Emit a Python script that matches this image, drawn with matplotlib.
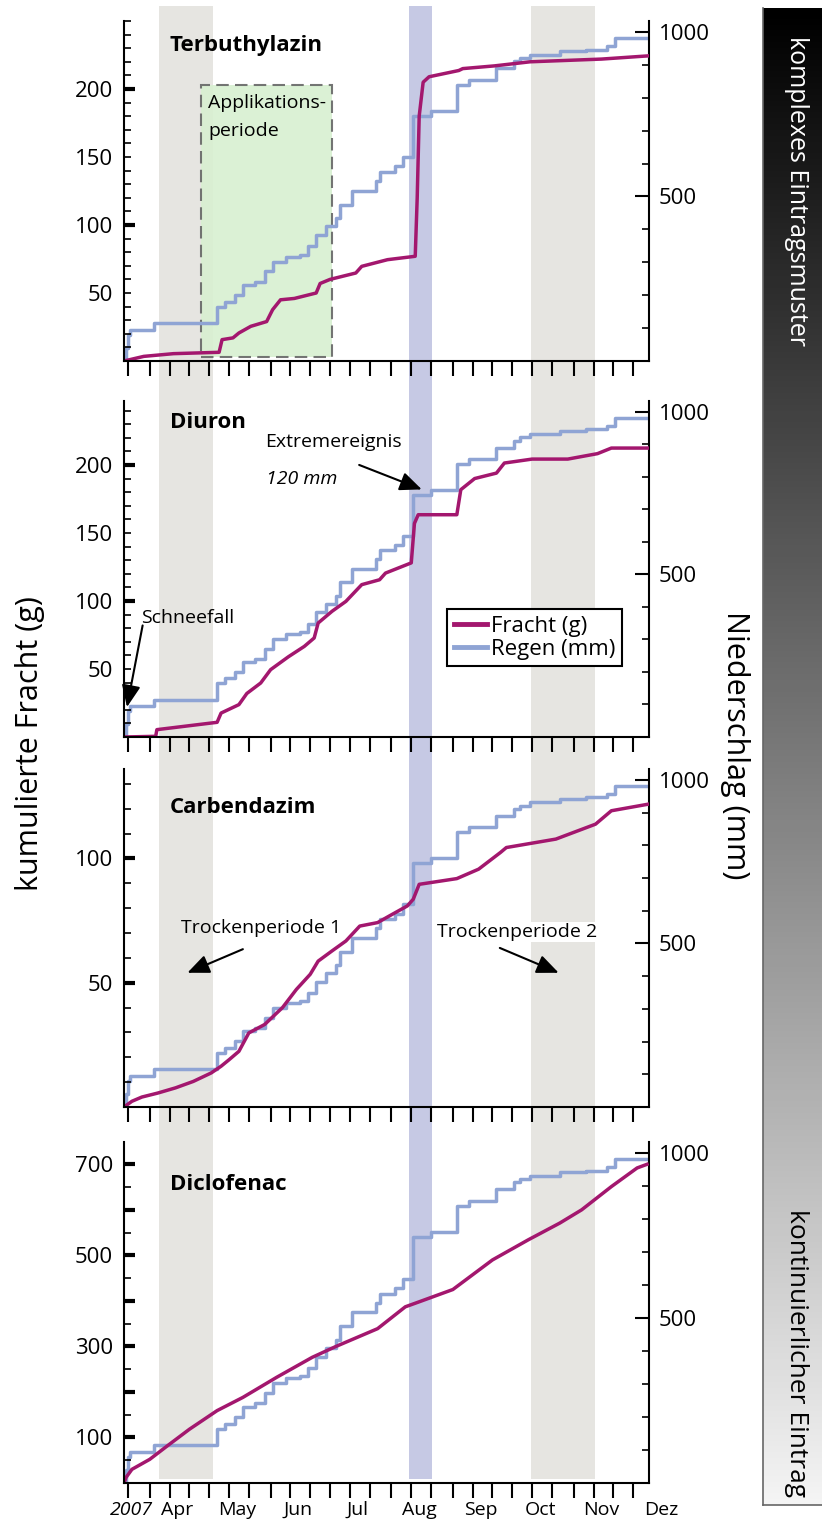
import numpy as np
import matplotlib.pyplot as plt
from matplotlib.patches import Rectangle
from matplotlib.lines import Line2D
from matplotlib.ticker import MultipleLocator, FixedLocator, FuncFormatter
from matplotlib.colors import LinearSegmentedColormap

plt.rcParams['font.family'] = ['Open Sans', 'DejaVu Sans']

# Tag im Jahr 2007 / kumulierter Regen (mm)
regen_tag = [78, 79, 80, 81, 93, 125, 129, 134, 138, 144, 149, 153, 160, 167, 171, 175, 180, 185,
             187, 193, 205, 207, 215, 219, 224, 233, 246, 252, 266, 275, 278, 283, 298, 311, 322, 326, 343]
regen_mm = [0, 40, 80, 94, 115, 165, 180, 201, 231, 241, 272, 302, 317, 323, 348, 383, 409, 434,
            475, 517, 546, 574, 591, 619, 745, 760, 840, 855, 890, 911, 921, 931, 941, 946, 956, 980, 982]

# kumulierte Fracht (g)
terb_tag = [78, 88, 103, 126, 127.5, 133, 136, 142, 150, 153, 157, 164, 175, 177, 182, 195, 198,
            211, 225, 226, 227, 229, 232, 247, 249, 265, 283, 319, 343]
terb_g = [0, 3.4, 5.4, 6.4, 15.7, 17, 20.6, 25.5, 29, 37.7, 45, 46, 50, 57, 60, 64.7, 69.6,
          74.5, 77, 120, 180, 205, 209, 213.6, 215, 217, 220, 222, 224.4]

diur_tag = [78, 94, 94.6, 125, 127, 136, 140, 147, 152, 161, 169, 174, 176, 183, 190, 198, 207,
            210, 223, 224.6, 226.5, 246, 248, 255, 266, 270, 284, 302, 317, 324, 343]
diur_g = [0, 0.5, 5.4, 10.8, 17.6, 23.8, 32, 39.7, 49.5, 59, 66.6, 72.8, 83.8, 92.4, 99.7, 112, 115.6,
          120.5, 128, 157, 163.4, 163.4, 181.8, 190, 194, 201.4, 204.3, 204.3, 208.3, 212.4, 212.4]

carb_tag = [78, 82, 87, 95, 104, 113, 122, 127, 131, 136, 141, 149, 158, 165, 172, 176, 183, 190,
            197, 206, 212, 221, 224, 227, 246, 257, 268, 271, 296, 316, 324, 343]
carb_g = [0, 2.3, 4, 5.6, 7.7, 10.3, 13.7, 16.4, 19, 22.4, 29.8, 33.2, 40, 47.3, 53.4, 58.7, 62.8, 66.8,
          72.8, 74.2, 76.9, 80.9, 83.6, 89.6, 91.9, 95.7, 102.4, 104.4, 107.8, 113.8, 119.2, 121.9]

dicl_tag = [78, 79, 82, 91, 100, 111, 125, 138, 155, 173, 185, 206, 220, 227, 244, 264, 282, 298,
            309, 324, 337, 342]
dicl_g = [0, 12, 30, 52, 82, 118, 159, 188, 232, 276, 300, 339, 387, 398, 425, 490, 534, 571,
          600, 651, 692, 700]

monate = ['2007', 'Apr', 'May', 'Jun', 'Jul', 'Aug', 'Sep', 'Oct', 'Nov', 'Dez']
monat_tag = [81.5, 105, 135, 166, 196, 227, 258, 288, 319, 349]
x_ticks = [80, 91, 101, 111, 121, 131, 141, 152, 162, 172, 182, 192, 202, 213, 223, 233,
           244, 254, 264, 274, 284, 294, 305, 315, 325, 335]

fracht_col = '#a3176e'
regen_col = '#8fa4d4'

W, H = 822, 1524
fig = plt.figure(figsize=(W / 100, H / 100), dpi=100)
L, R = 124, 649
xlim = (78, 343)

# Hintergrund: Trockenperioden und Extremereignis
ax_bg = fig.add_axes([L / W, 0, (R - L) / W, 1])
ax_bg.set_xlim(xlim)
ax_bg.axis('off')
y0, y1 = 1 - 1479 / H, 1 - 6 / H
ax_bg.axvspan(95.5, 123, ymin=y0, ymax=y1, color='#e6e5e1', lw=0)
ax_bg.axvspan(283.5, 315.5, ymin=y0, ymax=y1, color='#e6e5e1', lw=0)
ax_bg.axvspan(222, 233.5, ymin=y0, ymax=y1, color='#c6c9e4', lw=0)

panels = [
    dict(name='Terbuthylazin', tag=terb_tag, g=terb_g, ylim=250, bold=[100, 200],
         labels=[50, 100, 150, 200], minor=10, top=21, bottom=361, title_y=232),
    dict(name='Diuron', tag=diur_tag, g=diur_g, ylim=247, bold=[100, 200],
         labels=[50, 100, 150, 200], minor=10, top=401, bottom=737, title_y=231),
    dict(name='Carbendazim', tag=carb_tag, g=carb_g, ylim=136, bold=[50, 100],
         labels=[50, 100], minor=10, top=769, bottom=1107, title_y=120.5),
    dict(name='Diclofenac', tag=dicl_tag, g=dicl_g, ylim=749, bold=[100, 200, 300, 400, 500, 600, 700],
         labels=[100, 300, 500, 700], minor=50, top=1142, bottom=1483, title_y=655),
]

axes = []
for p in panels:
    ax = fig.add_axes([L / W, 1 - p['bottom'] / H, (R - L) / W, (p['bottom'] - p['top']) / H])
    ax2 = ax.twinx()
    ax.set_zorder(ax2.get_zorder() + 1)
    ax.patch.set_visible(False)

    ax2.plot(regen_tag, regen_mm, color=regen_col, lw=2.5, drawstyle='steps-post')
    ax.plot(p['tag'], p['g'], color=fracht_col, lw=2.5)

    ax.set_xlim(xlim)
    ax.set_ylim(0, p['ylim'])
    ax2.set_ylim(0, 1033)

    for s in ['top', 'right']:
        ax.spines[s].set_visible(False)
    for s in ['top', 'left', 'bottom']:
        ax2.spines[s].set_visible(False)
    ax.spines['left'].set_linewidth(1.5)
    ax.spines['bottom'].set_linewidth(1.5)
    ax2.spines['right'].set_linewidth(1.5)

    lab = p['labels']
    fmt = FuncFormatter(lambda v, pos, lab=lab: '%d' % v if int(round(v)) in lab else '')
    ax.yaxis.set_major_locator(FixedLocator(p['bold']))
    ax.yaxis.set_minor_locator(MultipleLocator(p['minor']))
    ax.yaxis.set_major_formatter(fmt)
    ax.yaxis.set_minor_formatter(fmt)
    ax.tick_params(axis='y', which='major', direction='in', length=8, width=3, labelsize=16, pad=8)
    ax.tick_params(axis='y', which='minor', direction='in', length=5, width=1.2, labelsize=16, pad=8)

    ax.set_xticks(x_ticks)
    ax.tick_params(axis='x', direction='out', length=11, width=1.5, labelbottom=False)

    ax2.yaxis.set_major_locator(FixedLocator([500, 1000]))
    ax2.yaxis.set_minor_locator(MultipleLocator(100))
    ax2.tick_params(axis='y', which='major', direction='in', length=10, width=1.5, labelsize=16, pad=7)
    ax2.tick_params(axis='y', which='minor', direction='in', length=5, width=1.2)

    ax.text(101, p['title_y'], p['name'], fontsize=16, fontweight='bold', va='center')
    axes.append((ax, ax2))

arrow = dict(arrowstyle='-|>,head_length=0.7,head_width=0.3', color='black', lw=1.5,
             mutation_scale=19, shrinkA=0, shrinkB=0)

# Panel 1: Applikationsperiode
ax, ax2 = axes[0]
box = Rectangle((117, 3), 66, 200, transform=ax.transData, facecolor='#d8f0d1', alpha=0.9,
                edgecolor='#666666', lw=1.5, ls=(0, (6, 3)))
ax2.add_patch(box)
ax.text(120.5, 190, 'Applikations-', fontsize=14, va='center')
ax.text(120.5, 169, 'periode', fontsize=14, va='center')

# Panel 2: Extremereignis, Schneefall, Legende
ax, ax2 = axes[1]
ax.text(149, 217, 'Extremereignis', fontsize=14, va='center')
ax.text(149.5, 190, '120 mm', fontsize=14, style='italic', va='center')
ax.annotate('', xy=(228.3, 182), xytext=(196.7, 200), arrowprops=arrow)
ax.text(86.5, 87.5, 'Schneefall', fontsize=14, va='center')
ax.annotate('', xy=(79.5, 22), xytext=(87.4, 82), arrowprops=arrow, annotation_clip=False)
handles = [Line2D([], [], color=fracht_col, lw=3.5), Line2D([], [], color=regen_col, lw=3.5)]
leg = ax.legend(handles, ['Fracht (g)', 'Regen (mm)'], loc='lower left', bbox_to_anchor=(0.615, 0.21),
                fontsize=16, frameon=True, fancybox=False, edgecolor='black', framealpha=1,
                handlelength=1.5, handletextpad=0.2, borderpad=0.3, labelspacing=0.1, borderaxespad=0)
leg.get_frame().set_linewidth(1.5)

# Panel 3: Trockenperioden
ax, ax2 = axes[2]
ax.text(107, 72, 'Trockenperiode 1', fontsize=14, va='center')
ax.annotate('', xy=(110, 54), xytext=(138, 63.5), arrowprops=arrow)
ax.text(236, 70.4, 'Trockenperiode 2', fontsize=14, va='center',
        bbox=dict(facecolor='white', edgecolor='none', pad=1))
ax.annotate('', xy=(297.4, 54), xytext=(267.7, 64), arrowprops=arrow)

# Monatsbeschriftung unter dem letzten Panel
ax, ax2 = axes[3]
for name, t in zip(monate, monat_tag):
    ax.text(t, -0.078, name, transform=ax.get_xaxis_transform(), ha='center', va='center',
            fontsize=14, style='italic' if name == '2007' else 'normal', clip_on=False)

# Achsentitel
fig.text(30 / W, 1 - 744 / H, 'kumulierte Fracht (g)', rotation=90, ha='center', va='center', fontsize=22)
fig.text(735 / W, 1 - 745 / H, 'Niederschlag (mm)', rotation=-90, ha='center', va='center', fontsize=22)

# Verlaufsbalken rechts
ax_box = fig.add_axes([763 / W, 1 - 1505 / H, (W - 763) / W, 1497 / H])
cmap = LinearSegmentedColormap.from_list('grau', ['#000000', '#f4f4f4'])
ax_box.imshow(np.linspace(0, 1, 256).reshape(-1, 1), aspect='auto', cmap=cmap, extent=[0, 1, 0, 1])
ax_box.set_xticks([])
ax_box.set_yticks([])
for s in ['top', 'right']:
    ax_box.spines[s].set_visible(False)
for s in ['left', 'bottom']:
    ax_box.spines[s].set_color('#666666')
    ax_box.spines[s].set_linewidth(1.2)
fig.text(796 / W, 1 - 36 / H, 'komplexes Eintragsmuster', rotation=-90, color='white',
         ha='center', va='top', fontsize=18)
fig.text(796 / W, 1 - 1497 / H, 'kontinuierlicher Eintrag', rotation=-90, color='black',
         ha='center', va='bottom', fontsize=19)

fig.savefig('out.png', dpi=100)
